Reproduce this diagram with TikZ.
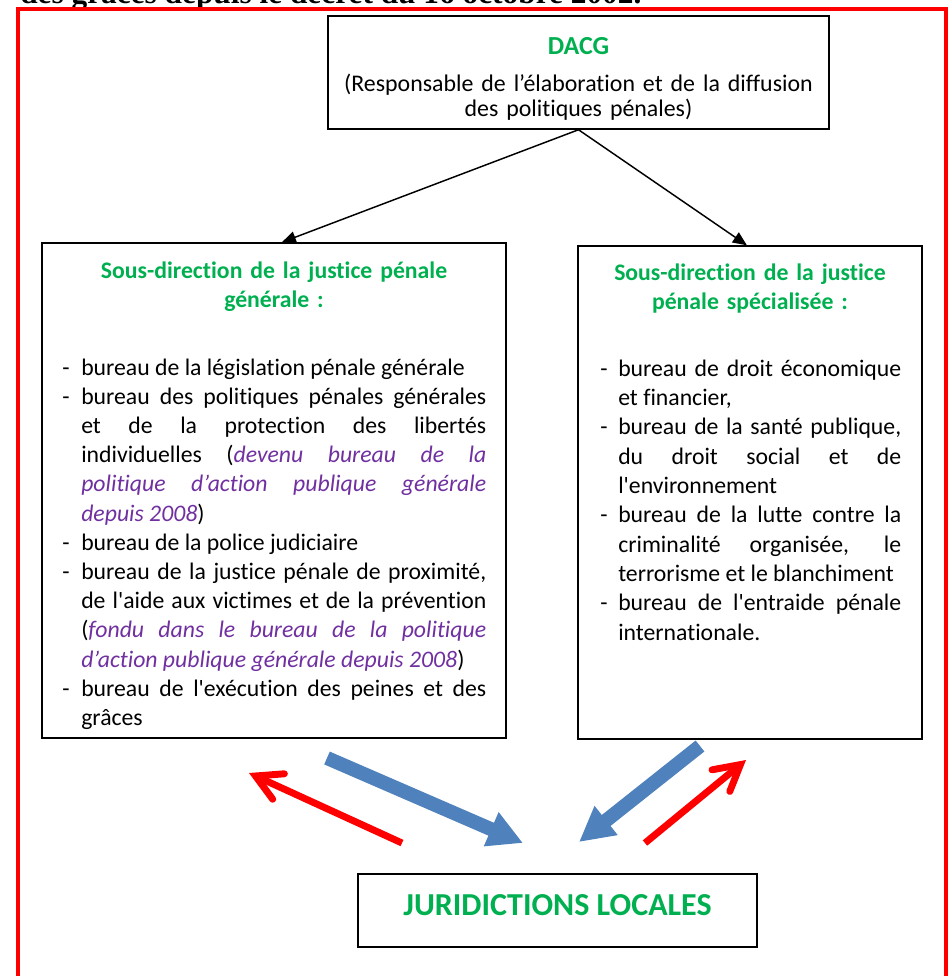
\documentclass[tikz,border=0pt]{standalone}
\usepackage{fontspec}
\setmainfont{Carlito}[Ligatures={TeXOff,NoCommon}]
\newfontfamily\tnr{Liberation Serif}
\usetikzlibrary{arrows.meta,calc}
\definecolor{vert}{HTML}{00B050}
\definecolor{violetc}{HTML}{7030A0}
\definecolor{bleu}{HTML}{4F81BD}
\newcommand\tiret[1][14pt]{\hangindent=#1\hangafter=1\noindent\makebox[#1][l]{-}}
\newcommand\vio[1]{\textcolor{violetc}{\itshape #1}}
\tolerance=10000 \hbadness=10000
\begin{document}
\begin{tikzpicture}[x=0.75pt,y=-0.75pt,
  boxst/.style={draw=black,line width=1.1pt,inner sep=0pt,fill=none},
  conn/.style={draw=black,line width=1.1pt,-{Triangle[length=10.5pt,width=9pt]}},
  bluearrow/.style={draw=bleu,line width=10.5pt,-{Triangle[length=26pt,width=26pt]}},
  redarrow/.style={draw=red,line width=5.2pt,-{Straight Barb[length=19pt,width=21pt,line cap=round,line join=miter]}},
  titre/.style={inner sep=0pt,text=vert,font=\bfseries\fontsize{17.8pt}{21.75pt}\selectfont,align=center},
  corps/.style={inner sep=0pt,align=justify}]
\useasboundingbox (0,0) rectangle (952,976);
\clip (0,0) rectangle (952,976);
% cut heading above the frame
\node[anchor=base west,inner sep=0pt,font=\tnr\bfseries\fontsize{23.5pt}{28pt}\selectfont] (cut) at (20,3) {des grâces depuis le décret du 16 octobre 2002.};
% red frame
\draw[red,line width=3pt] (18,9) rectangle (946,1000);
% boxes
\node[boxst,minimum width=375.75pt,minimum height=84.75pt] (dacg) at (578.5,72.5) {};
\node[boxst,minimum width=348pt,minimum height=371.25pt] (gen) at (274,490.5) {};
\node[boxst,minimum width=258pt,minimum height=369.75pt] (spe) at (750,492.5) {};
\node[boxst,minimum width=299.25pt,minimum height=54.75pt] (jur) at (557.5,910.5) {};
% DACG texts
\node[anchor=base,inner sep=0pt,text=vert,font=\bfseries\fontsize{19.5pt}{23pt}\selectfont] (dacgt) at (578.5,54) {DACG};
\node[anchor=base,inner sep=0pt,text width=360pt,align=center,font=\fontsize{17.9pt}{18.75pt}\selectfont] (dacgd) at (578.5,91) {(Responsable de l’élaboration et de la diffusion\\des politiques pénales)};
% left box texts
\node[titre,anchor=base,text width=330pt] (gent) at (274,278) {Sous-direction de la justice pénale\\générale :};
\node[corps,anchor=base west,text width=318pt,font=\fontsize{17.8pt}{21.9pt}\selectfont] (genl) at (62,375) {%
\tiret[14.25pt]bureau de la législation pénale générale\par
\tiret[14.25pt]bureau des politiques pénales générales\linebreak et de la protection des libertés\linebreak individuelles (\vio{devenu bureau de la\linebreak politique d’action publique générale\linebreak depuis 2008})\par
\tiret[14.25pt]bureau de la police judiciaire\par
\tiret[14.25pt]bureau de la justice pénale de proximité,\linebreak de l'aide aux victimes et de la prévention\linebreak (\vio{fondu dans le bureau de la politique\linebreak d’action publique générale depuis 2008})\par
\tiret[14.25pt]bureau de l'exécution des peines et des\linebreak grâces\par};
% right box texts
\node[titre,anchor=base,text width=250pt] (spet) at (750,280) {Sous-direction de la justice\\pénale spécialisée :};
\node[corps,anchor=base west,text width=225.75pt,font=\fontsize{17.8pt}{22pt}\selectfont] (spel) at (600,376) {%
\tiret[13.5pt]bureau de droit économique\linebreak et financier,\par
\tiret[13.5pt]bureau de la santé publique,\linebreak du droit social et de\linebreak l'environnement\par
\tiret[13.5pt]bureau de la lutte contre la\linebreak criminalité organisée, le\linebreak terrorisme et le blanchiment\par
\tiret[13.5pt]bureau de l'entraide pénale\linebreak internationale.\par};
% juridictions text
\node[anchor=base,inner sep=0pt,text=vert,font=\bfseries\fontsize{24pt}{28pt}\selectfont] (jurt) at (557.5,915) {JURIDICTIONS LOCALES};
% black connectors
\draw[conn] (dacg.south) -- ($(gen.north west)!0.517!(gen.north east)$);
\draw[conn] (dacg.south) -- ($(spe.north west)!0.491!(spe.north east)$);
% block arrows
\coordinate (b1s) at (327,758); \coordinate (b1e) at (523,843);
\coordinate (b2s) at (700,746); \coordinate (b2e) at (579,842);
\coordinate (r1s) at (402,843); \coordinate (r1e) at (249,773);
\coordinate (r2s) at (645,843); \coordinate (r2e) at (746,760);
\draw[bluearrow] (b1s) -- (b1e);
\draw[bluearrow] (b2s) -- (b2e);
\draw[redarrow] (r1s) -- (r1e);
\draw[redarrow] (r2s) -- (r2e);
\end{tikzpicture}
\end{document}
